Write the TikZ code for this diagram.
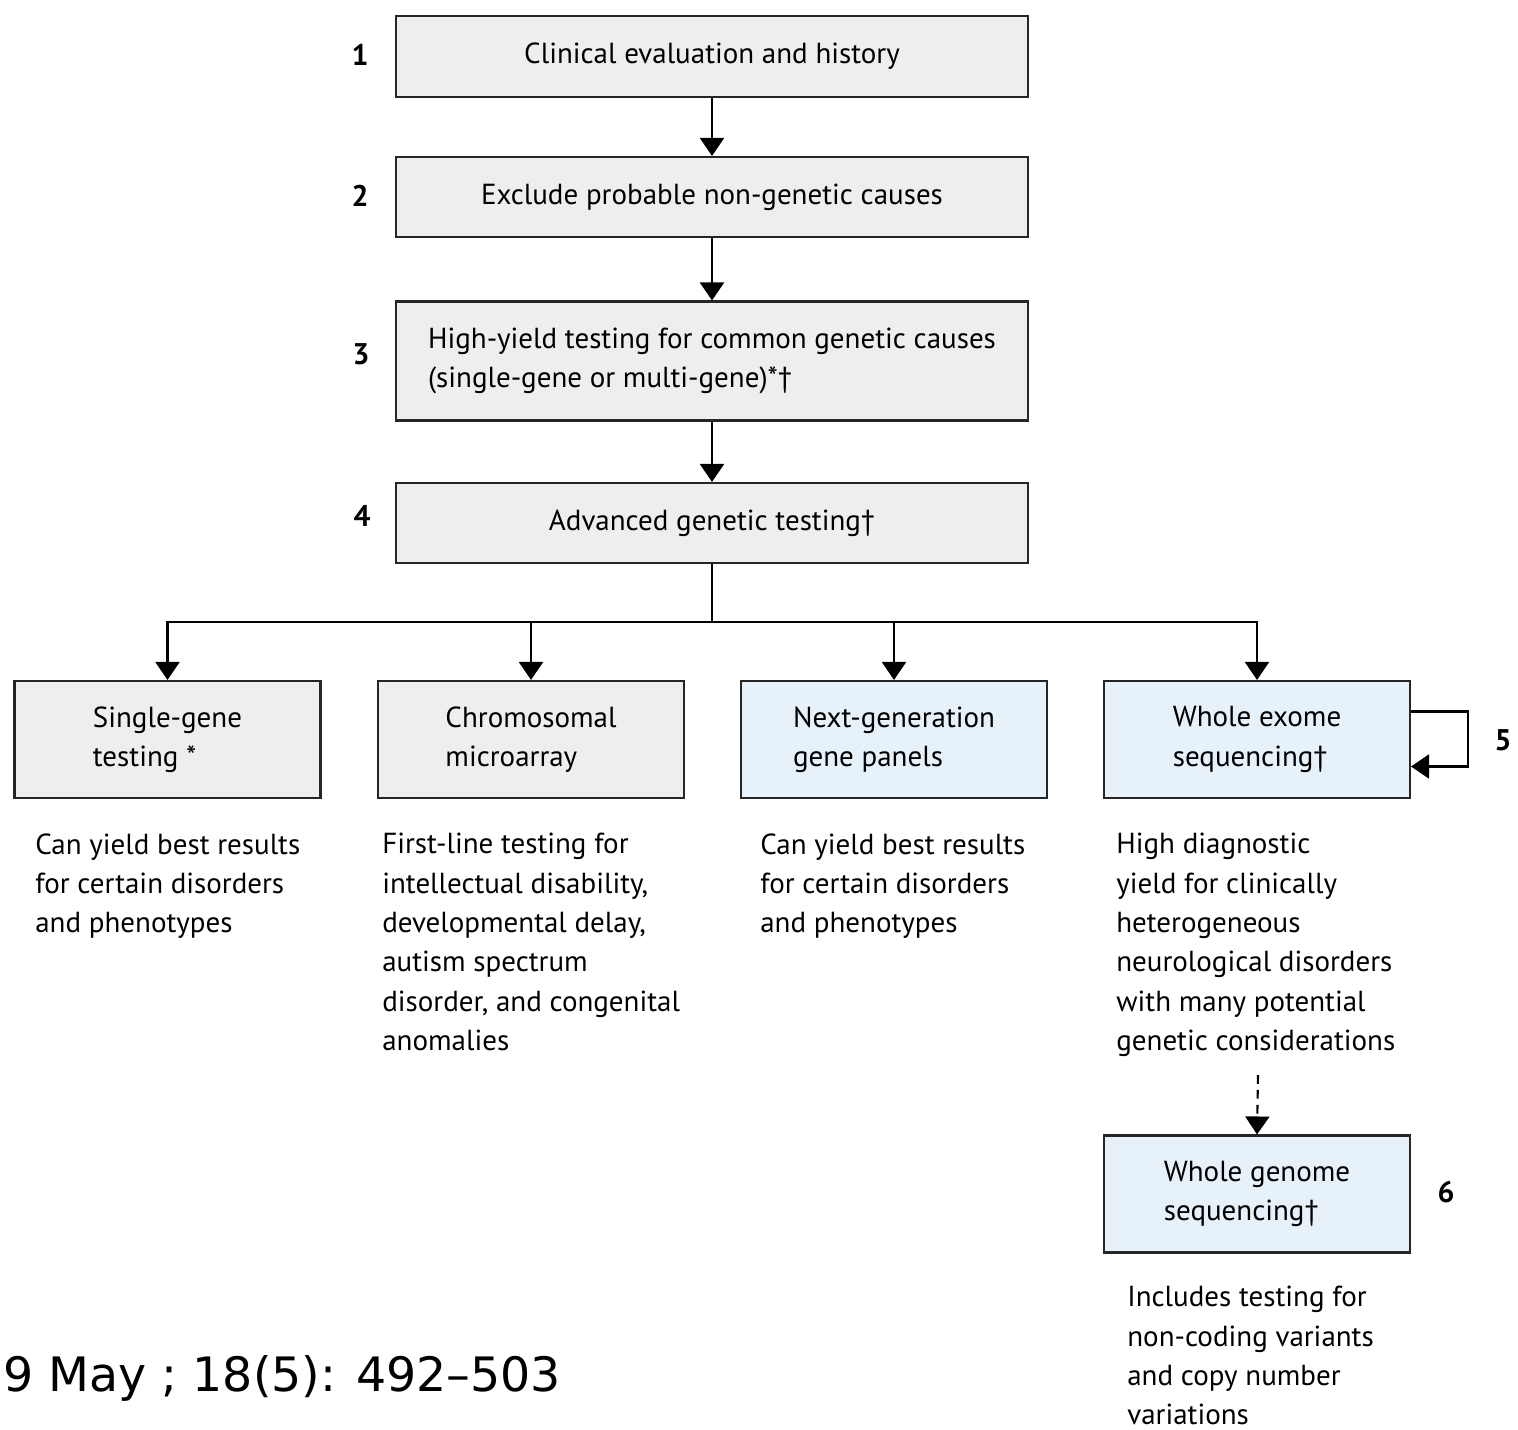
\documentclass[tikz,border=0pt]{standalone}
\usepackage{fontspec}
\setmainfont{PT Sans}
\newfontfamily\footfont{DejaVu Sans}
\usetikzlibrary{arrows.meta,calc}
\definecolor{boxgray}{HTML}{EDEEF0}
\definecolor{boxblue}{HTML}{E6F1F9}
\begin{document}
\begin{tikzpicture}[x=0.02cm,y=-0.02cm,
  every node/.style={font=\fontsize{16.5}{22.4}\selectfont},
  box/.style={draw=black!85,line width=1.2pt,inner sep=0pt,align=left},
  topbox/.style={box,fill=boxgray,minimum width=12.64cm},
  lowbox/.style={box,minimum width=6.12cm,minimum height=2.34cm},
  desc/.style={anchor=north west,inner sep=0pt,align=left},
  numlab/.style={font=\fontsize{17}{20}\selectfont\bfseries},
  arr/.style={line width=1.2pt,-{Triangle[length=0.36cm,width=0.48cm]}}]
\useasboundingbox (0,0) rectangle (1518,1430);
\fill[white] (0,0) rectangle (1518,1430);

\node[topbox,minimum height=1.62cm] (b1) at (712,56.5) {\raisebox{-2pt}{Clinical evaluation and history}};
\node[topbox,minimum height=1.60cm] (b2) at (712,197) {\raisebox{-2pt}{Exclude probable non-genetic causes}};
\node[topbox,minimum height=2.38cm] (b3) at (712,361) {High-yield testing for common genetic causes\\(single-gene or multi-gene)*\dag};
\node[topbox,minimum height=1.60cm] (b4) at (712,523) {\raisebox{-2pt}{Advanced genetic testing\dag}};

\node[numlab] (n1) at (360,55) {1};
\node[numlab] (n2) at (360,196) {2};
\node[numlab] (n3) at (361,354) {3};
\node[numlab] (n4) at (362,516) {4};

\node[lowbox,fill=boxgray] (sg) at (167.5,739.5) {Single-gene\\testing *};
\node[lowbox,fill=boxgray] (cm) at (531,739.5) {Chromosomal\\microarray};
\node[lowbox,fill=boxblue] (ng) at (894,739.5) {Next-generation\\gene panels};
\node[lowbox,fill=boxblue] (we) at (1257,739.5) {Whole exome\\sequencing\dag};
\node[lowbox,fill=boxblue] (wg) at (1257,1194) {Whole genome\\sequencing\dag};

\node[numlab] (n5) at (1503,740) {5};
\node[numlab] (n6) at (1446,1192) {6};

\draw[arr] (b1) -- (b2);
\draw[arr] (b2) -- (b3);
\draw[arr] (b3) -- (b4);
\coordinate (j) at (712,622);
\draw[line width=1.2pt] (b4) -- (j);
\draw[arr] (j) -| (sg.north);
\draw[arr] (j) -| (cm.north);
\draw[arr] (j) -| (ng.north);
\draw[arr] (j) -| (we.north);
\draw[arr] ($(we.east)+(0,-28)$) -- ++(57,0) |- ($(we.east)+(0,27)$);

\node[desc] (d1) at (35,833) {Can yield best results\\for certain disorders\\and phenotypes};
\node[desc] (d2) at (382,833) {First-line testing for\\intellectual disability,\\developmental delay,\\autism spectrum\\disorder, and congenital\\anomalies};
\node[desc] (d3) at (760,833) {Can yield best results\\for certain disorders\\and phenotypes};
\node[desc] (d4) at (1116,833) {High diagnostic\\yield for clinically\\heterogeneous\\neurological disorders\\with many potential\\genetic considerations};
\node[desc] (d6) at (1127,1286) {Includes testing for\\non-coding variants\\and copy number\\variations};

\coordinate (dj) at (1258,1075);
\draw[arr,dash pattern=on 5pt off 3.5pt] (dj) -- (wg.north);

\node[anchor=west,inner sep=0pt,font=\footfont\fontsize{27}{32}\selectfont] (ft) at (3,1378) {9 May ; 18(5): 492–503};
\end{tikzpicture}
\end{document}
